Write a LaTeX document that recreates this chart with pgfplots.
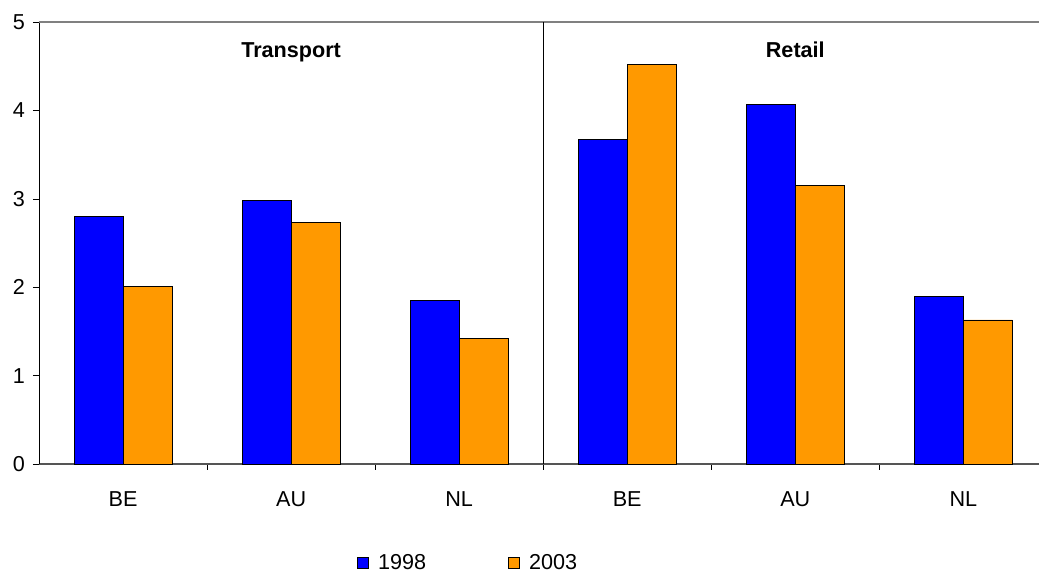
\documentclass[border=0pt]{standalone}
\usepackage{pgfplots}
\pgfplotsset{compat=1.18}
\usepackage{fontspec}
\setmainfont{Liberation Sans}
\definecolor{barblue}{HTML}{0000FF}
\definecolor{barorange}{HTML}{FF9900}
\definecolor{axgray}{HTML}{555555}
\begin{document}
\begin{tikzpicture}
\useasboundingbox (-19.5pt,-54pt) rectangle (500pt,232pt);
\begin{axis}[
  at={(0,0)}, anchor=south west,
  scale only axis,
  width=500pt, height=221pt,
  xmin=-0.5, xmax=5.45,
  ymin=0, ymax=5,
  ytick={0,1,2,3,4,5},
  xtick={0,1,2,3,4,5},
  xticklabels={BE,AU,NL,BE,AU,NL},
  major x tick style={draw=none},
  minor xtick={0.5,1.5,2.5,3.5,4.5},
  minor x tick style={black},
  minor tick length=3pt,
  major tick length=3pt,
  tick align=outside,
  axis x line*=bottom,
  axis y line*=left,
  x axis line style={axgray, thick, -},
  y axis line style={black, -},
  y tick style={black},
  font=\fontsize{10.8}{13}\selectfont,
  ticklabel style={font=\fontsize{10.8}{13}\selectfont},
  x tick label style={anchor=north, yshift=-7.5pt},
  y tick label style={xshift=-0.5pt},
  /pgf/number format/assume math mode=true,
  ybar=0pt,
  bar width=24.5pt,
  legend columns=2,
  legend style={at={(0.318,0)}, anchor=west, yshift=-49.5pt, draw=none, inner sep=0pt,
    font=\fontsize{10.8}{13}\selectfont,
    /tikz/every odd column/.append style={column sep=2.5pt},
    /tikz/every even column/.append style={column sep=39pt}},
  legend image code/.code={\draw[#1, draw=black] (0pt,-2.75pt) rectangle (5.5pt,2.75pt);},
  clip=false,
]
\draw[gray, thick] (rel axis cs:0,1) -- (rel axis cs:1,1);
\draw[black] (axis cs:2.5,0) -- (axis cs:2.5,5);
\addplot[fill=barblue, draw=black] coordinates {(0,2.80) (1,2.98) (2,1.855) (3,3.67) (4,4.07) (5,1.90)};
\addplot[fill=barorange, draw=black] coordinates {(0,2.01) (1,2.73) (2,1.425) (3,4.52) (4,3.15) (5,1.63)};
\legend{1998,2003}
\node[anchor=base, font=\fontsize{10.8}{13}\selectfont\bfseries] at (axis cs:1,4.60) {Transport};
\node[anchor=base, font=\fontsize{10.8}{13}\selectfont\bfseries] at (axis cs:4,4.60) {Retail};
\end{axis}
\end{tikzpicture}
\end{document}
